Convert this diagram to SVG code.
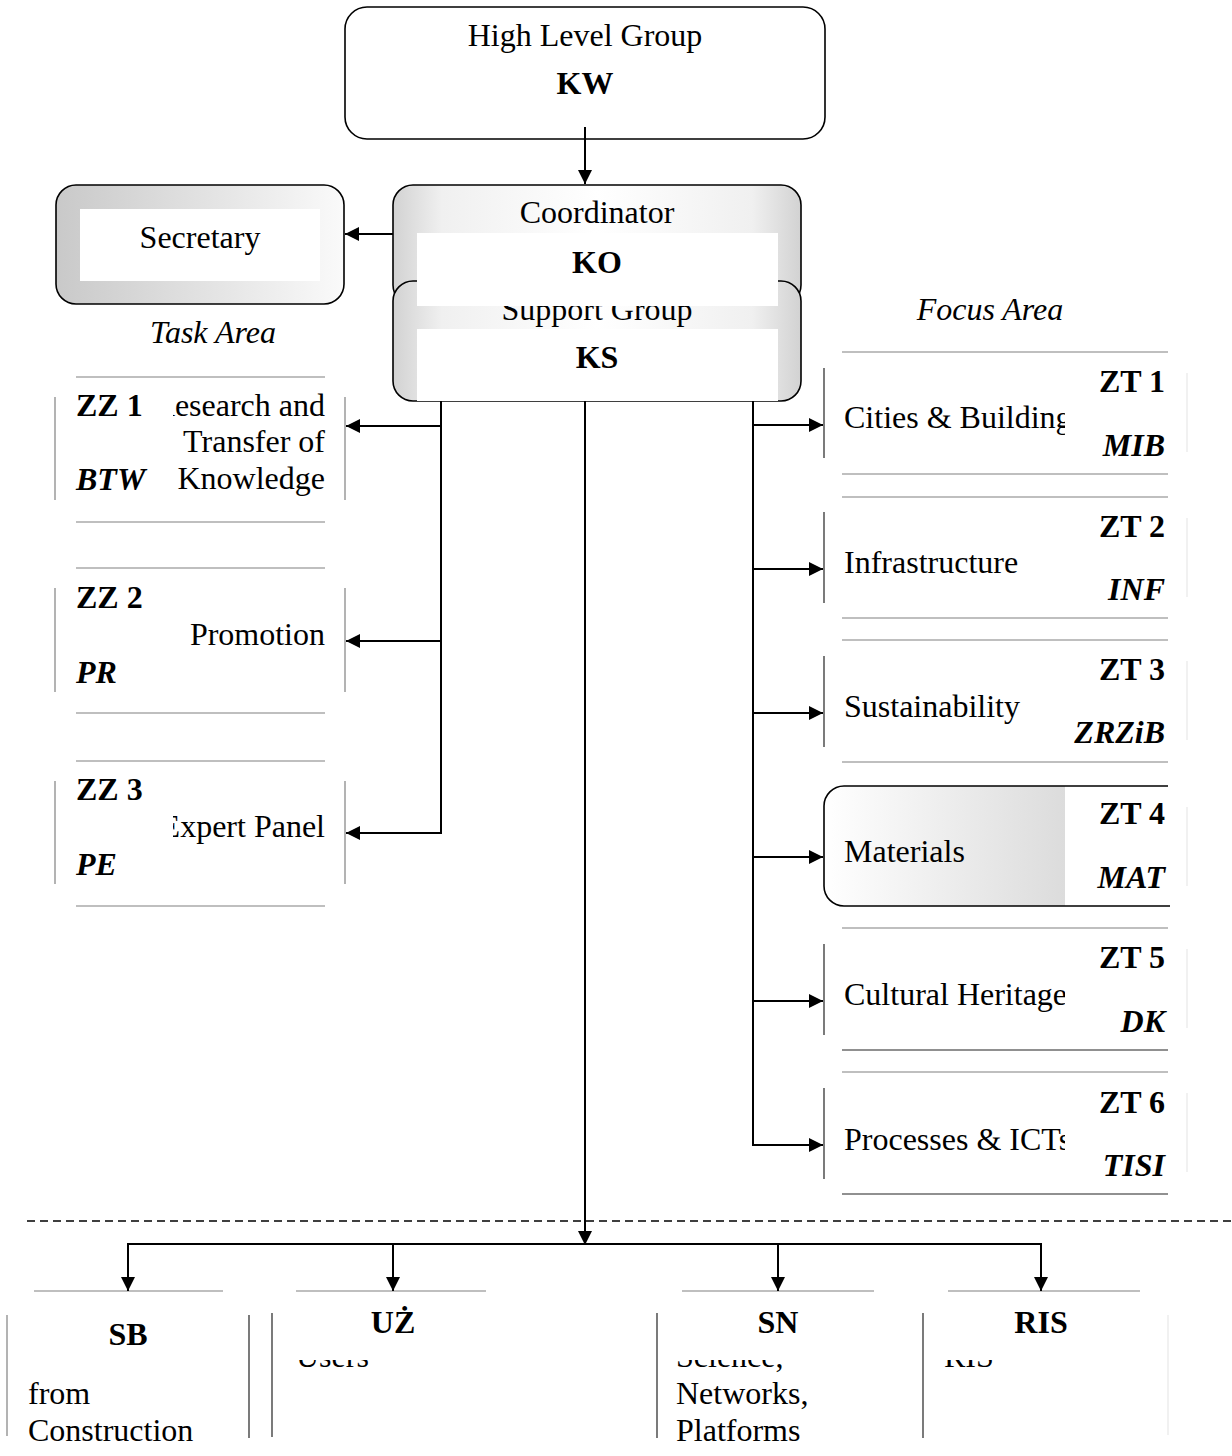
<svg xmlns="http://www.w3.org/2000/svg" width="1232" height="1456" viewBox="0 0 1232 1456">
<style>
.t{font-family:"Liberation Serif","Times New Roman",serif;font-size:32px;fill:#000}
.b{font-weight:bold}
.i{font-style:italic}
.c{text-anchor:middle}
.r{text-anchor:end}
.edge{stroke:#000;stroke-width:2;fill:none}
.box{stroke:#000;stroke-width:1.6}
.gl{stroke:#808080;stroke-width:1.2}
.dl{stroke:#222;stroke-width:1.2}
.fl{stroke:#e8e8e8;stroke-width:1.2}
</style>
<defs>
<marker id="ah" markerUnits="userSpaceOnUse" markerWidth="14" markerHeight="14" refX="14" refY="7" orient="auto">
<path d="M0,0 L14,7 L0,14 z" fill="#000"/>
</marker>
<linearGradient id="gCo" x1="0" y1="0" x2="1" y2="0">
<stop offset="0" stop-color="#d2d2d2"/>
<stop offset="0.12" stop-color="#f0f0f0"/>
<stop offset="0.5" stop-color="#ffffff"/>
<stop offset="0.88" stop-color="#f0f0f0"/>
<stop offset="1" stop-color="#d2d2d2"/>
</linearGradient>
<linearGradient id="gSe" x1="0" y1="0" x2="1" y2="0">
<stop offset="0" stop-color="#c9c9c9"/>
<stop offset="1" stop-color="#fafafa"/>
</linearGradient>
<linearGradient id="gMat" gradientUnits="userSpaceOnUse" x1="824" y1="0" x2="1168" y2="0">
<stop offset="0" stop-color="#ffffff"/>
<stop offset="0.70" stop-color="#dcdcdc"/>
<stop offset="0.70" stop-color="#ffffff"/>
<stop offset="1" stop-color="#ffffff"/>
</linearGradient>
<clipPath id="cL"><rect x="173" y="0" width="200" height="1456"/></clipPath>
<clipPath id="cR"><rect x="830" y="0" width="235" height="1456"/></clipPath>
<clipPath id="cB"><rect x="0" y="1360" width="1232" height="96"/></clipPath>
</defs>

<g id="high-level-group">
<rect x="345" y="7" width="480" height="132" rx="22" fill="#fff" class="box"/>
<text class="t c" x="585" y="46">High Level Group</text>
<text class="t b c" x="585" y="94">KW</text>
</g>

<g id="secretary">
<rect x="56" y="185" width="288" height="119" rx="20" fill="url(#gSe)" class="box"/>
<rect x="80" y="209" width="240" height="72" fill="#fff"/>
<text class="t c" x="200" y="248">Secretary</text>
</g>

<g id="coordinator">
<rect x="393" y="185" width="408" height="120" rx="20" fill="url(#gCo)" class="box"/>
<text class="t c" x="597" y="223">Coordinator</text>
</g>

<g id="support-group">
<rect x="393" y="281" width="408" height="120" rx="20" fill="url(#gCo)" class="box"/>
<text class="t c" x="597" y="320">Support Group</text>
<rect x="417" y="329" width="361" height="72" fill="#fff"/>
<text class="t b c" x="597" y="368">KS</text>
</g>

<g id="coordinator-inner">
<rect x="417" y="233" width="361" height="73" fill="#fff"/>
<text class="t b c" x="597" y="273">KO</text>
</g>

<text class="t i c" x="213" y="343">Task Area</text>
<text class="t i c" x="990" y="320">Focus Area</text>

<g id="zz1">
<line class="gl" x1="76" y1="377" x2="325" y2="377"/>
<line class="gl" x1="55" y1="397" x2="55" y2="500"/>
<line class="gl" x1="345" y1="397" x2="345" y2="500"/>
<line class="gl" x1="76" y1="522" x2="325" y2="522"/>
<text class="t b" x="76" y="416">ZZ 1</text>
<text class="t b i" x="76" y="490">BTW</text>
<text class="t r" x="325" y="416" clip-path="url(#cL)">Research and</text>
<text class="t r" x="325" y="452">Transfer of</text>
<text class="t r" x="325" y="489">Knowledge</text>
</g>

<g id="zz2">
<line class="gl" x1="76" y1="568" x2="325" y2="568"/>
<line class="gl" x1="55" y1="588" x2="55" y2="692"/>
<line class="gl" x1="345" y1="588" x2="345" y2="692"/>
<line class="gl" x1="76" y1="713" x2="325" y2="713"/>
<text class="t b" x="76" y="608">ZZ 2</text>
<text class="t r" x="325" y="645">Promotion</text>
<text class="t b i" x="76" y="683">PR</text>
</g>

<g id="zz3">
<line class="gl" x1="76" y1="761" x2="325" y2="761"/>
<line class="gl" x1="55" y1="781" x2="55" y2="884"/>
<line class="gl" x1="345" y1="781" x2="345" y2="884"/>
<line class="gl" x1="76" y1="906" x2="325" y2="906"/>
<text class="t b" x="76" y="800">ZZ 3</text>
<text class="t r" x="325" y="837" clip-path="url(#cL)">Expert Panel</text>
<text class="t b i" x="76" y="875">PE</text>
</g>

<g id="zt1">
<line class="gl" x1="842" y1="352" x2="1168" y2="352"/>
<line class="dl" x1="824" y1="368" x2="824" y2="458"/>
<line class="fl" x1="1187" y1="373" x2="1187" y2="452"/>
<line class="gl" x1="842" y1="474" x2="1168" y2="474"/>
<text class="t b r" x="1165" y="392">ZT 1</text>
<text class="t" x="844" y="428" clip-path="url(#cR)">Cities &amp; Buildings</text>
<text class="t b i r" x="1165" y="456">MIB</text>
</g>

<g id="zt2">
<line class="gl" x1="842" y1="497" x2="1168" y2="497"/>
<line class="dl" x1="824" y1="512" x2="824" y2="603"/>
<line class="fl" x1="1187" y1="518" x2="1187" y2="597"/>
<line class="gl" x1="842" y1="618" x2="1168" y2="618"/>
<text class="t b r" x="1165" y="537">ZT 2</text>
<text class="t" x="844" y="573" clip-path="url(#cR)">Infrastructure</text>
<text class="t b i r" x="1165" y="600">INF</text>
</g>

<g id="zt3">
<line class="gl" x1="842" y1="640" x2="1168" y2="640"/>
<line class="dl" x1="824" y1="656" x2="824" y2="747"/>
<line class="fl" x1="1187" y1="661" x2="1187" y2="740"/>
<line class="gl" x1="842" y1="762" x2="1168" y2="762"/>
<text class="t b r" x="1165" y="680">ZT 3</text>
<text class="t" x="844" y="717" clip-path="url(#cR)">Sustainability</text>
<text class="t b i r" x="1165" y="743">ZRZiB</text>
</g>

<g id="zt4">
<path d="M1168,786 H844 A20,20 0 0 0 824,806 V886 A20,20 0 0 0 844,906 H1170" fill="url(#gMat)" class="box"/>
<line class="fl" x1="1187" y1="807" x2="1187" y2="886"/>
<text class="t b r" x="1165" y="824">ZT 4</text>
<text class="t" x="844" y="862" clip-path="url(#cR)">Materials</text>
<text class="t b i r" x="1165" y="888">MAT</text>
</g>

<g id="zt5">
<line class="gl" x1="842" y1="928" x2="1168" y2="928"/>
<line class="dl" x1="824" y1="944" x2="824" y2="1035"/>
<line class="fl" x1="1187" y1="949" x2="1187" y2="1028"/>
<line class="dl" x1="842" y1="1050" x2="1168" y2="1050"/>
<text class="t b r" x="1165" y="968">ZT 5</text>
<text class="t" x="844" y="1005" clip-path="url(#cR)">Cultural Heritage</text>
<text class="t b i r" x="1165" y="1032">DK</text>
</g>

<g id="zt6">
<line class="gl" x1="842" y1="1072" x2="1168" y2="1072"/>
<line class="dl" x1="824" y1="1088" x2="824" y2="1179"/>
<line class="fl" x1="1187" y1="1093" x2="1187" y2="1172"/>
<line class="dl" x1="842" y1="1194" x2="1168" y2="1194"/>
<text class="t b r" x="1165" y="1113">ZT 6</text>
<text class="t" x="844" y="1150" clip-path="url(#cR)">Processes &amp; ICTs</text>
<text class="t b i r" x="1165" y="1176">TISI</text>
</g>

<line x1="27" y1="1221" x2="1232" y2="1221" stroke="#000" stroke-width="1.5" stroke-dasharray="8 5"/>

<g id="sb">
<line class="gl" x1="34" y1="1291" x2="223" y2="1291"/>
<line class="gl" x1="7" y1="1315" x2="7" y2="1436"/>
<line class="dl" x1="249" y1="1315" x2="249" y2="1438"/>
<text class="t b c" x="128" y="1345">SB</text>
<text class="t" x="28" y="1404">from</text>
<text class="t" x="28" y="1441">Construction</text>
</g>

<g id="uz">
<line class="gl" x1="296" y1="1291" x2="486" y2="1291"/>
<line class="dl" x1="272" y1="1313" x2="272" y2="1437"/>
<text class="t b c" x="393" y="1333">UŻ</text>
<text class="t" x="296" y="1367" clip-path="url(#cB)">Users</text>
</g>

<g id="sn">
<line class="gl" x1="682" y1="1291" x2="874" y2="1291"/>
<line class="dl" x1="657" y1="1313" x2="657" y2="1438"/>
<text class="t b c" x="778" y="1333">SN</text>
<text class="t" x="676" y="1367" clip-path="url(#cB)">Science,</text>
<text class="t" x="676" y="1404">Networks,</text>
<text class="t" x="676" y="1441">Platforms</text>
</g>

<g id="ris">
<line class="gl" x1="948" y1="1291" x2="1140" y2="1291"/>
<line class="dl" x1="923" y1="1313" x2="923" y2="1438"/>
<line class="fl" x1="1168" y1="1315" x2="1168" y2="1435"/>
<text class="t b c" x="1041" y="1333">RIS</text>
<text class="t" x="944" y="1367" clip-path="url(#cB)">RIS</text>
</g>

<g id="connectors">
<line class="edge" x1="585" y1="127" x2="585" y2="184" marker-end="url(#ah)"/>
<line class="edge" x1="393" y1="234" x2="345" y2="234" marker-end="url(#ah)"/>
<line class="edge" x1="441" y1="401" x2="441" y2="833"/>
<line class="edge" x1="441" y1="426" x2="346" y2="426" marker-end="url(#ah)"/>
<line class="edge" x1="441" y1="641" x2="346" y2="641" marker-end="url(#ah)"/>
<line class="edge" x1="442" y1="833" x2="346" y2="833" marker-end="url(#ah)"/>
<line class="edge" x1="753" y1="401" x2="753" y2="1146"/>
<line class="edge" x1="753" y1="425" x2="823" y2="425" marker-end="url(#ah)"/>
<line class="edge" x1="753" y1="569" x2="823" y2="569" marker-end="url(#ah)"/>
<line class="edge" x1="753" y1="713" x2="823" y2="713" marker-end="url(#ah)"/>
<line class="edge" x1="753" y1="857" x2="823" y2="857" marker-end="url(#ah)"/>
<line class="edge" x1="753" y1="1001" x2="823" y2="1001" marker-end="url(#ah)"/>
<line class="edge" x1="752" y1="1145" x2="823" y2="1145" marker-end="url(#ah)"/>
<line class="edge" x1="585" y1="401" x2="585" y2="1245" marker-end="url(#ah)"/>
<polyline class="edge" points="128,1290 128,1244 1041,1244 1041,1290"/>
<line class="edge" x1="128" y1="1250" x2="128" y2="1291" marker-end="url(#ah)"/>
<line class="edge" x1="393" y1="1244" x2="393" y2="1291" marker-end="url(#ah)"/>
<line class="edge" x1="778" y1="1244" x2="778" y2="1291" marker-end="url(#ah)"/>
<line class="edge" x1="1041" y1="1250" x2="1041" y2="1291" marker-end="url(#ah)"/>
</g>
</svg>
